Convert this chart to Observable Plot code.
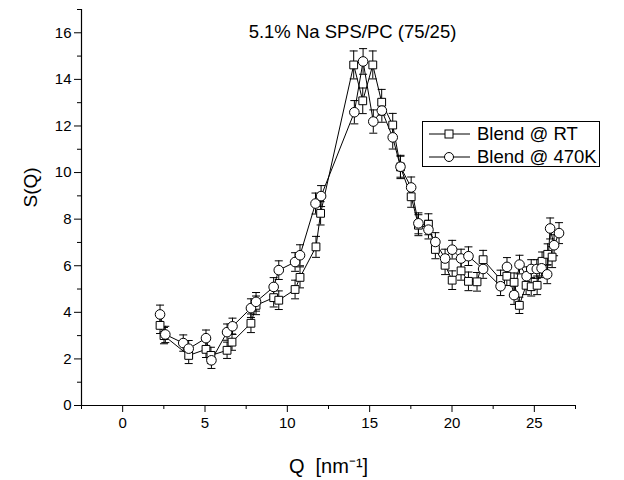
<!DOCTYPE html>
<html><head><meta charset="utf-8">
<script src="https://cdn.jsdelivr.net/npm/d3@7"></script>
<script src="https://cdn.jsdelivr.net/npm/@observablehq/plot@0.6"></script>
<style>
body{margin:0;background:#fff;font-family:"Liberation Sans",Arial,sans-serif}
#wrap{position:relative;width:624px;height:480px}
#legend{position:absolute;left:422px;top:121px;width:178px;height:46px;border:1px solid #000;background:#fff;box-sizing:border-box}
.row{position:absolute;left:0;height:22px;display:flex;align-items:center;font-size:18.5px;white-space:nowrap}
.row svg{margin-left:6px;margin-right:7px}
</style></head><body><div id="wrap"></div>
<script>
const title = "5.1% Na SPS/PC (75/25)";
const seriesNames = ["Blend @ RT", "Blend @ 470K"];
const xLabel = "Q  [nm⁻¹]";
const yLabel = "S(Q)";
const xDomain = [-2.5, 27.5];
const yDomain = [0, 17];
const xMajor = [0, 5, 10, 15, 20, 25];
const xMinor = [-2.5, 2.5, 7.5, 12.5, 17.5, 22.5, 27.5];
const yMajor = [0, 2, 4, 6, 8, 10, 12, 14, 16];
const yMinor = [1, 3, 5, 7, 9, 11, 13, 15, 17];

const qRT = [2.27,2.51,4.01,5.06,5.36,6.34,6.64,7.79,8.10,9.17,9.48,10.47,10.77,11.74,12.02,14.03,14.58,15.19,15.73,16.40,16.87,17.52,17.96,18.57,18.99,19.58,20.01,20.55,21.0,21.52,21.89,22.95,23.33,23.77,24.09,24.50,24.81,25.17,25.47,25.81,26.08];
const sRT = [3.44,3.0,2.15,2.41,2.15,2.37,2.72,3.53,4.30,4.63,4.52,4.98,5.50,6.81,8.25,14.62,13.08,14.62,13.02,12.04,10.24,8.96,7.74,7.78,6.70,6.02,5.38,5.78,5.33,5.31,6.26,5.41,5.55,5.29,4.30,5.16,5.10,5.16,6.19,6.49,6.37];
const eRT = [0.35,0.35,0.35,0.35,0.35,0.35,0.35,0.4,0.4,0.4,0.4,0.4,0.45,0.45,0.5,0.6,0.55,0.6,0.55,0.5,0.5,0.45,0.45,0.45,0.4,0.4,0.4,0.4,0.4,0.4,0.4,0.4,0.4,0.4,0.35,0.4,0.4,0.4,0.4,0.45,0.45];

const qHot = [2.27,2.59,3.68,4.01,5.06,5.39,6.34,6.67,7.79,8.10,9.17,9.48,10.47,10.77,11.71,12.05,14.07,14.60,15.22,15.74,16.40,16.87,17.52,17.96,18.57,18.99,19.58,20.01,20.55,21.0,21.89,22.95,23.34,23.77,24.10,24.53,24.81,25.15,25.44,25.78,25.96,26.2,26.5];
const sHot = [3.91,3.05,2.68,2.44,2.89,1.94,3.15,3.40,4.18,4.45,5.09,5.81,6.16,6.45,8.67,8.99,12.59,14.77,12.19,12.66,11.51,10.25,9.36,7.82,7.55,7.02,6.31,6.69,6.31,6.41,5.86,5.12,5.95,4.74,6.05,5.55,5.86,5.86,5.89,5.63,7.60,6.88,7.4];
const eHot = [0.4,0.35,0.35,0.35,0.35,0.35,0.35,0.35,0.4,0.4,0.4,0.4,0.4,0.45,0.45,0.45,0.5,0.55,0.5,0.5,0.5,0.45,0.45,0.45,0.4,0.4,0.4,0.4,0.4,0.4,0.4,0.4,0.4,0.4,0.4,0.4,0.4,0.4,0.4,0.4,0.45,0.45,0.45];

const rt = qRT.map((q, i) => ({q, s: sRT[i], e: eRT[i]}));
const hot = qHot.map((q, i) => ({q, s: sHot[i], e: eHot[i]}));

const cap = {draw(ctx, size) { const w = Math.sqrt(size / Math.PI); ctx.moveTo(-w, 0); ctx.lineTo(w, 0); }};

function errMarks(data) {
  return [
    Plot.ruleX(data, {x: "q", y1: d => d.s - d.e, y2: d => d.s + d.e, stroke: "black", strokeWidth: 1}),
    Plot.dot(data, {x: "q", y: d => d.s + d.e, symbol: cap, r: 4, stroke: "black", strokeWidth: 1}),
    Plot.dot(data, {x: "q", y: d => d.s - d.e, symbol: cap, r: 4, stroke: "black", strokeWidth: 1}),
    Plot.line(data, {x: "q", y: "s", stroke: "black", strokeWidth: 1})
  ];
}

const chart = Plot.plot({
  width: 624, height: 480,
  marginLeft: 81, marginRight: 49, marginTop: 9, marginBottom: 75,
  style: {fontFamily: "'Liberation Sans', Arial, sans-serif", fontSize: "15px", color: "black", background: "white"},
  x: {domain: xDomain},
  y: {domain: yDomain},
  marks: [
    Plot.axisX({ticks: xMajor, tickSize: 7, tickPadding: 5, label: null, fontSize: 15}),
    Plot.axisX({ticks: xMinor, tickSize: 4, tickFormat: () => "", label: null}),
    Plot.axisY({ticks: yMajor, tickSize: 7, tickPadding: 3, label: null, fontSize: 15}),
    Plot.axisY({ticks: yMinor, tickSize: 4, tickFormat: () => "", label: null}),
    Plot.ruleY([yDomain[0]], {stroke: "black", strokeWidth: 1.2}),
    Plot.ruleX([xDomain[0]], {stroke: "black", strokeWidth: 1.2}),
    ...errMarks(rt),
    ...errMarks(hot),
    Plot.dot(rt, {x: "q", y: "s", symbol: "square", r: 4.4, fill: "white", stroke: "black", strokeWidth: 1}),
    Plot.dot(hot, {x: "q", y: "s", symbol: "circle", r: 4.8, fill: "white", stroke: "black", strokeWidth: 1}),
    Plot.text([title], {frameAnchor: "top", dx: 24, dy: 23, lineAnchor: "middle", fontSize: 18.5}),
    Plot.text([yLabel], {frameAnchor: "left", dx: -51, rotate: -90, fontSize: 19}),
    Plot.text([xLabel], {frameAnchor: "bottom", dy: 61, lineAnchor: "middle", fontSize: 20})
  ]
});

const wrap = document.getElementById("wrap");
wrap.appendChild(chart);

const legend = document.createElement("div");
legend.id = "legend";
const sym = [
  '<rect x="16" y="7" width="8" height="8" fill="white" stroke="black"/>',
  '<circle cx="20" cy="11" r="4.5" fill="white" stroke="black"/>'
];
seriesNames.forEach((name, i) => {
  const row = document.createElement("div");
  row.className = "row";
  row.style.top = (i === 0 ? 1 : 24) + "px";
  row.innerHTML = `<svg width="41" height="22"><line x1="0" x2="41" y1="11" y2="11" stroke="black"/>${sym[i]}</svg><span>${name}</span>`;
  legend.appendChild(row);
});
wrap.appendChild(legend);
</script></body></html>
